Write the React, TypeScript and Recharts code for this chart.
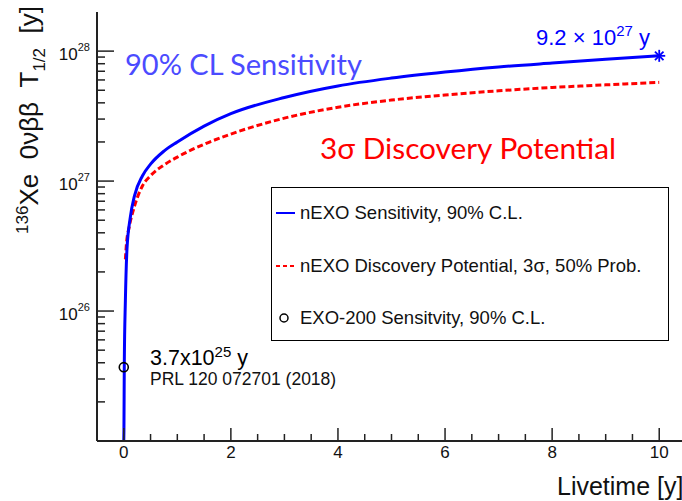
import React from 'react'
import { ComposedChart, Line, Scatter, XAxis, YAxis, Legend } from 'recharts'

const FONT = "'Liberation Sans', Arial, sans-serif"
const TITLE_FONT = "Lato, 'Open Sans', sans-serif"

// nEXO 90% CL sensitivity vs livetime
const SENS_LIVETIME = [0, 0.003, 0.01, 0.03, 0.06, 0.12, 0.2, 0.35, 0.5, 0.75, 1, 1.5, 2, 3, 4, 5, 6, 7, 8, 9, 10]
const SENS_HALFLIFE = [
  1.0e25, 1.2e25, 4.0e25, 1.2e26, 3.0e26, 5.2e26, 7.7e26, 1.1e27, 1.35e27, 1.7e27,
  2.0e27, 2.65e27, 3.3e27, 4.4e27, 5.4e27, 6.2e27, 6.9e27, 7.55e27, 8.1e27, 8.65e27, 9.2e27,
]

// nEXO 3 sigma discovery potential vs livetime
const DISC_LIVETIME = [0.03, 0.05, 0.1, 0.2, 0.35, 0.5, 0.75, 1, 1.5, 2, 3, 4, 5, 6, 7, 8, 9, 10]
const DISC_HALFLIFE = [
  2.5e26, 3.3e26, 4.4e26, 6.4e26, 9.2e26, 1.1e27, 1.33e27, 1.53e27, 1.92e27, 2.3e27,
  3.05e27, 3.7e27, 4.2e27, 4.6e27, 4.95e27, 5.25e27, 5.5e27, 5.75e27,
]

const EXO200_LIVETIME = [0]
const EXO200_HALFLIFE = [3.7e25]

const FINAL_LIVETIME = [10]
const FINAL_HALFLIFE = [9.2e27]

const X_TICKS = [0, 0.5, 1, 1.5, 2, 2.5, 3, 3.5, 4, 4.5, 5, 5.5, 6, 6.5, 7, 7.5, 8, 8.5, 9, 9.5, 10]
const Y_DECADES = [25, 26, 27]
const Y_MANTISSAS = [1, 2, 3, 4, 5, 6, 7, 8, 9]
const Y_TICKS = [...Y_DECADES.flatMap(d => Y_MANTISSAS.map(m => m * Math.pow(10, d))), 1e28]
const Y_LABELED = [26, 27, 28]

const LEGEND_ITEMS = [
  { label: 'nEXO Sensitivity, 90% C.L.', kind: 'line', color: '#0000ff' },
  { label: 'nEXO Discovery Potential, 3\u03c3, 50% Prob.', kind: 'dash', color: '#ff0000' },
  { label: 'EXO-200 Sensitvity, 90% C.L.', kind: 'circle', color: '#000' },
]

const toRows = (xs: number[], ys: number[]) => xs.map((t, i) => ({ t, v: ys[i] }))

const sensData = toRows(SENS_LIVETIME, SENS_HALFLIFE)
const discData = toRows(DISC_LIVETIME, DISC_HALFLIFE)
const exoData = toRows(EXO200_LIVETIME, EXO200_HALFLIFE)
const finalData = toRows(FINAL_LIVETIME, FINAL_HALFLIFE)

const AXIS = '#222'

const XTick = (props: any) => {
  const { x, y, payload } = props
  const v = payload.value as number
  const major = v % 2 === 0
  return (
    <g>
      <line x1={x} x2={x} y1={y} y2={y - (major ? 13 : 7)} stroke={AXIS} strokeWidth={1.5} />
      {major && (
        <text x={x} y={y + 17} textAnchor="middle" fontFamily={FONT} fontSize={17} fill="#111">
          {v}
        </text>
      )}
    </g>
  )
}

const YTick = (props: any) => {
  const { x, y, payload } = props
  const v = payload.value as number
  const exp = Math.round(Math.log10(v))
  const major = Math.abs(v - Math.pow(10, exp)) < v * 1e-6
  const labeled = major && Y_LABELED.includes(exp)
  return (
    <g>
      <line x1={x} x2={x + (major ? 17 : 8)} y1={y} y2={y} stroke={AXIS} strokeWidth={1.5} />
      {labeled && (
        <text x={x - 7} y={y + 9} textAnchor="end" fontFamily={FONT} fontSize={17} fill="#111">
          10<tspan fontSize={11} dy={-9}>{exp}</tspan>
        </text>
      )}
    </g>
  )
}

const OpenCircle = (props: any) => (
  <circle cx={props.cx} cy={props.cy} r={4.5} fill="none" stroke="#000" strokeWidth={1.6} />
)

const Asterisk = (props: any) => {
  const { cx, cy } = props
  const r = 6
  const d = r * 0.71
  return (
    <g stroke="#0000ff" strokeWidth={1.8}>
      <line x1={cx - r} x2={cx + r} y1={cy} y2={cy} />
      <line x1={cx} x2={cx} y1={cy - r} y2={cy + r} />
      <line x1={cx - d} x2={cx + d} y1={cy - d} y2={cy + d} />
      <line x1={cx - d} x2={cx + d} y1={cy + d} y2={cy - d} />
    </g>
  )
}

const LegendBox = () => (
  <div style={{
    width: 398, height: 154, border: '1.5px solid #000', boxSizing: 'border-box',
    background: '#fff', position: 'relative', fontFamily: FONT, fontSize: 18.5, color: '#111',
  }}>
    {LEGEND_ITEMS.map((it, i) => (
      <div key={it.label} style={{
        position: 'absolute', left: 3, top: 13 + i * 52.5, height: 24,
        display: 'flex', alignItems: 'center', whiteSpace: 'nowrap',
      }}>
        <svg width={22} height={24}>
          {it.kind === 'line' && <line x1={1} x2={20} y1={12} y2={12} stroke={it.color} strokeWidth={2} />}
          {it.kind === 'dash' && (
            <line x1={1} x2={20} y1={12} y2={12} stroke={it.color} strokeWidth={2} strokeDasharray="4 3" />
          )}
          {it.kind === 'circle' && <circle cx={9} cy={12} r={4} fill="none" stroke={it.color} strokeWidth={1.5} />}
        </svg>
        <span style={{ marginLeft: 3 }}>{it.label}</span>
      </div>
    ))}
  </div>
)

export default function App() {
  return (
    <div style={{
      position: 'fixed', left: 0, top: 0, width: 682, height: 501,
      overflow: 'hidden', background: '#fff',
    }}>
      <ComposedChart width={700} height={501} margin={{ top: 12, right: 14, bottom: 0, left: 0 }}>
        <XAxis
          dataKey="t" type="number" domain={[-0.5, 10.5]} ticks={X_TICKS} interval={0}
          height={60} tickSize={0} tickMargin={0} tickLine={false} tick={XTick}
          axisLine={{ stroke: AXIS, strokeWidth: 2 }} allowDataOverflow
        />
        <XAxis
          xAxisId="top" orientation="top" type="number" domain={[-0.5, 10.5]}
          height={0} tick={false} tickLine={false} axisLine={{ stroke: AXIS, strokeWidth: 2 }}
        />
        <YAxis
          type="number" scale="log" domain={[1e25, 2e28]} ticks={Y_TICKS} interval={0}
          width={97} tickSize={0} tickMargin={0} tickLine={false} tick={YTick}
          axisLine={{ stroke: AXIS, strokeWidth: 2 }} allowDataOverflow
        />
        <Legend
          layout="vertical" align="center" verticalAlign="middle"
          wrapperStyle={{ left: 271, top: 187, width: 398, height: 154 }}
          content={() => <LegendBox />}
        />
        <Line
          data={discData} dataKey="v" type="monotone" stroke="#ff0000" strokeWidth={3}
          strokeDasharray="6 3" dot={false} isAnimationActive={false} legendType="none"
        />
        <Line
          data={sensData} dataKey="v" type="monotone" stroke="#0000ff" strokeWidth={3}
          dot={false} isAnimationActive={false} legendType="none"
        />
        <Scatter data={exoData} dataKey="v" shape={OpenCircle} isAnimationActive={false} legendType="none" />
        <Scatter data={finalData} dataKey="v" shape={Asterisk} isAnimationActive={false} legendType="none" />
      </ComposedChart>

      <svg width={682} height={501} style={{ position: 'absolute', left: 0, top: 0, pointerEvents: 'none' }}>
        <text transform="translate(38,120) rotate(-90)" textAnchor="middle" fontFamily={FONT} fontSize={26} fill="#111">
          <tspan fontSize={17} dy={-10}>136</tspan>
          <tspan dy={10}>{'Xe\u00a0\u00a00\u03bd\u03b2\u03b2\u00a0\u00a0T'}</tspan>
          <tspan fontSize={17} dy={7}>1/2</tspan>
          <tspan dy={-7}>{'\u00a0\u00a0[y]'}</tspan>
        </text>
        <text x={557} y={495} fontFamily={FONT} fontSize={25} fill="#111">Livetime [y]</text>

        <text x={125} y={75} fontFamily={TITLE_FONT} fontSize={29} fill="#4b4bff">90% CL Sensitivity</text>
        <text x={320} y={159} fontFamily={TITLE_FONT} fontSize={29.8} fill="#ff0000">
          {'3\u03c3 Discovery Potential'}
        </text>

        <text x={536} y={45} fontFamily={FONT} fontSize={22} fill="#0000ff">
          {'9.2 \u00d7 10'}<tspan fontSize={15} dy={-9}>27</tspan><tspan dy={9}> y</tspan>
        </text>
        <text x={150} y={365} fontFamily={FONT} fontSize={21.5} fill="#000">
          3.7x10<tspan fontSize={15} dy={-8}>25</tspan><tspan dy={8}> y</tspan>
        </text>
        <text x={150} y={384.5} fontFamily={FONT} fontSize={17.5} fill="#111">PRL 120 072701 (2018)</text>
      </svg>
    </div>
  )
}
